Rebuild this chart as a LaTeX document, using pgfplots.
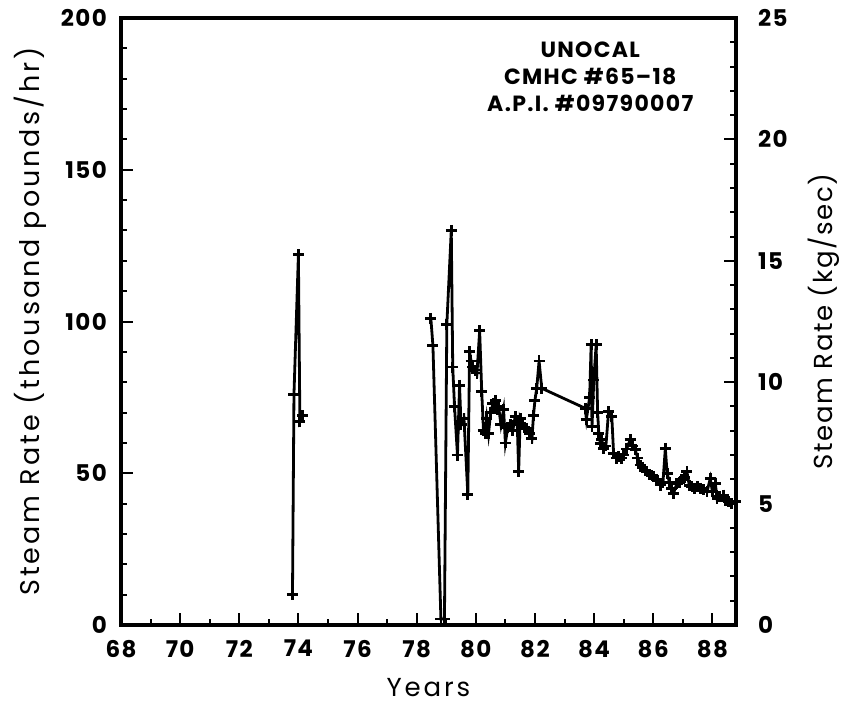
\documentclass[border=0pt]{standalone}
\usepackage{fontspec}
\setmainfont{Poppins}[LetterSpace=6]
\newfontfamily\labfont{Poppins}[LetterSpace=11]
\usepackage{pgfplots}
\pgfplotsset{compat=1.18}
\begin{document}
\begin{tikzpicture}
\useasboundingbox (-121pt,-80pt) rectangle (723pt,625pt);
\pgfplotsset{
  base/.style={
    scale only axis, width=615pt, height=607pt,
    xmin=68, xmax=88.8,
    tick align=inside,
    /pgf/number format/assume math mode=true,
    major tick length=12pt, minor tick length=6pt,
    every tick/.style={black, line width=2pt},
    tick label style={font=\fontsize{23}{26}\selectfont\bfseries, inner sep=0pt},
  }
}
\begin{axis}[base,
  ymin=0, ymax=200,
  axis line style={line width=4pt},
  xtick={68,70,...,88}, minor xtick={69,71,...,89},
  ytick={0,50,...,200}, minor ytick={10,20,30,40,60,70,80,90,110,120,130,140,160,170,180,190},
  xtick pos=bottom, ytick pos=left,
  xticklabel style={anchor=north, yshift=-15pt},
  yticklabel style={anchor=east, xshift=-14pt},
  every axis y label/.style={at={(axis description cs:-0.175,0.5)}, anchor=north, rotate=90, inner sep=0pt, font=\labfont\fontsize{27}{30}\selectfont},
  every axis x label/.style={at={(axis description cs:0.5,-0.087)}, anchor=north, inner sep=0pt, font=\labfont\fontsize{26}{30}\selectfont},
  ylabel={Steam Rate (thousand pounds/hr)},
  xlabel={Years},
  clip=false,
]
\addplot[black, line width=2.8pt, mark=+, mark size=5.5pt, mark options={line width=2.8pt}] coordinates {
(73.8,10) (73.85,76) (74.0,122) (74.05,67) (74.15,69)
};
\addplot[black, line width=2.8pt, mark=+, mark size=5.5pt, mark options={line width=2.8pt}] coordinates {
(78.48,101) (78.55,92) (78.82,2) (78.94,2) (79.02,99) (79.17,130) (79.22,85) (79.28,72)
(79.38,56) (79.45,79) (79.5,66) (79.6,68) (79.73,43) (79.79,90) (79.84,87) (79.9,85)
(79.98,84) (80.04,83) (80.13,97) (80.2,77) (80.26,64) (80.32,63) (80.37,68) (80.43,63)
(80.5,70) (80.58,73) (80.66,74) (80.72,71) (80.77,72) (80.85,66) (80.94,71) (81.0,60)
(81.08,65) (81.16,66) (81.25,64) (81.33,68.6) (81.4,67) (81.45,50.5) (81.5,68) (81.58,66)
(81.65,65) (81.73,64.8) (81.82,63) (81.9,61.5) (81.95,69) (82.0,74) (82.06,78) (82.14,87)
(82.23,78) (83.7,71.4) (83.74,67.8) (83.85,75) (83.9,92.3) (83.93,65.3) (83.99,80.7) (84.07,92.3)
(84.12,70) (84.16,63.2) (84.21,59.9) (84.26,61) (84.32,58.2) (84.4,59) (84.49,70.3) (84.6,68.6)
(84.66,56.6) (84.75,55) (84.83,55.5) (84.92,55) (85.0,56) (85.1,58) (85.22,61) (85.3,59)
(85.39,57.7) (85.48,55) (85.56,52.7) (85.65,52) (85.72,51) (85.79,50.5) (85.88,49.5) (86.0,48.9)
(86.1,48) (86.24,46.1) (86.33,47) (86.41,58.2) (86.47,50) (86.55,47) (86.62,45) (86.69,43.4)
(86.8,46.7) (86.9,47) (86.97,47.8) (87.05,48.5) (87.14,50.5) (87.22,46) (87.31,45.6) (87.4,45)
(87.5,45.5) (87.59,45) (87.7,44.5) (87.82,43.9) (87.93,48.3) (88.0,44) (88.1,46.7) (88.16,41.7)
(88.25,42.5) (88.38,42.8) (88.45,41) (88.55,40.6) (88.65,40) (88.78,40.6)
};
\node[align=center, font=\fontsize{22}{27}\selectfont\bfseries, inner sep=0pt] at (rel axis cs:0.763,0.904) {UNOCAL\\CMHC \#65--18\\A.P.I. \#09790007};
\end{axis}
\begin{axis}[base,
  ymin=0, ymax=25,
  axis x line=none,
  axis y line*=right,
  axis line style={line width=3.5pt},
  ytick={0,5,...,25}, minor ytick={1,2,...,24},
  ytick pos=right,
  yticklabel style={anchor=west, xshift=22pt},
  every axis y label/.style={at={(axis description cs:1.117,0.5)}, anchor=north, rotate=90, inner sep=0pt, font=\fontsize{26}{30}\selectfont},
  ylabel={Steam Rate (kg/sec)},
]
\end{axis}
\end{tikzpicture}
\end{document}
